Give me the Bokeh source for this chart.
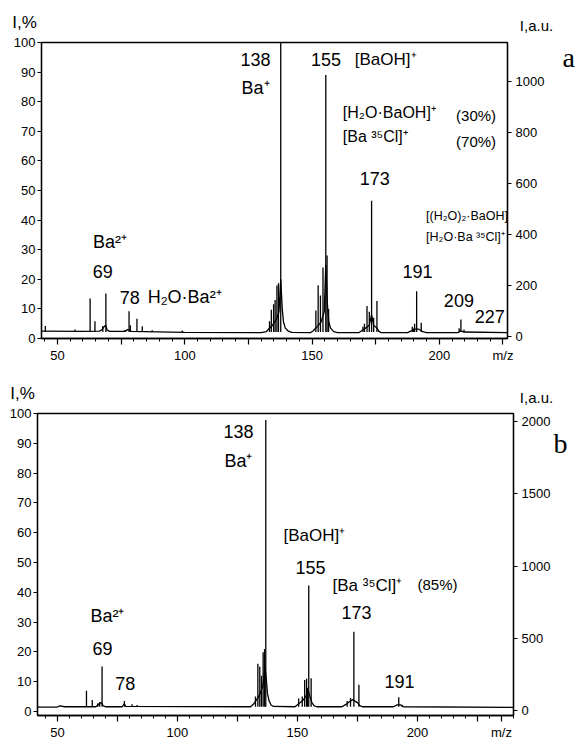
from bokeh.plotting import figure
from bokeh.models import Range1d, LinearAxis, FixedTicker, Label
from bokeh.layouts import column, row
from bokeh.embed import file_html
from bokeh.resources import INLINE

# ---------------- data: panel a ----------------
a_profile_mz = [43.7, 60, 66.5, 67.5, 68.3, 68.9, 69.5, 70.5, 76.5, 77.5, 78.5, 79, 100, 130,
                132, 133, 134.5, 136, 137, 137.7, 138.3, 138.8, 139.5, 140.5, 142,
                149.5, 150.5, 152, 153.5, 154.8, 155.4, 156.0, 156.6, 157.3, 158.5, 160,
                168.5, 169.5, 171, 172.5, 173.4, 174.2, 175.5, 176.2, 177,
                187.5, 189, 190.5, 191.8, 193.5, 195, 207.5, 208.5, 209.5, 226.8]
a_profile_int = [2.5, 2.4, 2.5, 3.0, 4.0, 4.5, 2.8, 2.4, 2.4, 3.0, 2.8, 2.4, 2.1, 2.0,
                 2.3, 3.2, 4.5, 6.5, 9.0, 20.0, 10.0, 5.5, 3.5, 2.6, 2.1,
                 2.0, 2.6, 4.0, 5.5, 9.0, 25.0, 12.0, 5.5, 3.5, 2.3, 2.0,
                 2.0, 2.6, 3.5, 4.5, 8.0, 4.5, 3.5, 2.5, 2.0,
                 2.0, 2.6, 3.2, 3.2, 2.3, 2.0, 2.0, 2.6, 2.2, 2.0]
a_peak_mz = [45.2, 56.9, 62.8, 64.7, 67.8, 69.0, 76.5, 78.1, 78.6, 81.2, 83.3, 87.2, 99.0,
             133.3, 134.0, 134.9, 135.5, 136.2, 136.8, 137.7,
             151.5, 152.4, 153.3, 154.3, 155.4, 155.9, 156.5,
             170.0, 170.6, 171.6, 172.5, 173.4, 174.2, 175.5,
             189.4, 189.8, 190.3, 191.1, 192.9, 207.8, 208.5, 209.7]
a_peak_int = [4.2, 3.0, 13.5, 5.8, 4.2, 15.2, 2.9, 9.2, 4.5, 6.7, 4.1, 2.8, 2.7,
              5.8, 9.7, 11.6, 13.0, 17.9, 18.7, 100.0,
              9.5, 18.0, 14.5, 24.0, 89.0, 28.0, 10.0,
              4.0, 5.0, 11.0, 9.0, 46.5, 7.0, 12.7,
              4.0, 3.4, 5.0, 16.0, 5.3, 3.5, 6.4, 3.0]
a_base = 2.2

# ---------------- data: panel b ----------------
b_profile_mz = [41.7, 50, 51, 53, 66, 67, 68.3, 69, 70, 77, 77.8, 78.5, 130.5,
                131.7, 133, 134.5, 135.7, 136.4, 136.9, 137.5, 138.2, 139, 140,
                149, 150.5, 152, 153.5, 154.5, 155.2, 156, 157, 158,
                168.5, 170, 171.5, 173, 173.9, 175, 176, 177,
                190, 191.5, 193, 194, 240]
b_profile_int = [1.5, 1.5, 1.9, 1.6, 1.6, 2.3, 3.0, 2.0, 1.6, 1.6, 2.6, 1.7, 1.6,
                 2.5, 4.0, 6.0, 9.0, 15.0, 12.0, 6.0, 3.5, 2.2, 1.7,
                 1.6, 2.6, 3.5, 5.0, 7.0, 5.0, 3.0, 1.9, 1.6,
                 1.6, 2.3, 3.2, 4.0, 3.5, 3.0, 2.0, 1.6,
                 1.6, 2.2, 2.2, 1.6, 1.4]
b_peak_mz = [62.1, 64.5, 66.8, 67.6, 68.6, 77.9, 81.1, 83.2,
             132.5, 133.5, 134.3, 135.0, 135.7, 136.3, 136.8,
             150.5, 152.0, 153.0, 153.8, 154.2, 154.7, 155.7,
             170.7, 172.1, 173.5, 175.6, 192.2, 193.6]
b_peak_int = [7.0, 3.9, 2.8, 3.2, 15.1, 3.5, 2.4, 2.2,
              5.0, 16.0, 15.0, 12.0, 19.9, 21.0, 97.8,
              4.4, 5.0, 10.6, 11.0, 8.0, 42.3, 11.2,
              3.5, 4.5, 26.8, 9.0, 4.8, 2.3]
b_base = 1.6

a_x_major = [50, 75, 100, 125, 150, 175, 200, 225]
a_x_labels = {75: "", 125: "", 175: "", 225: "m/z"}
b_x_major = [50, 75, 100, 125, 150, 175, 200, 225, 235]
b_x_labels = {75: "", 125: "", 175: "", 225: "", 235: "m/z"}
x_minor = list(range(40, 245, 5))
pct_ticks = [0, 10, 20, 30, 40, 50, 60, 70, 80, 90, 100]
a_au_ticks = [0, 200, 400, 600, 800, 1000]
b_au_ticks = [0, 500, 1000, 1500, 2000]

SANS = "Liberation Sans"
SERIF = "Liberation Serif"
W = 577


def lab(p, x, y, text, size=18, align="left", font=SANS):
    p.add_layout(Label(x=x, y=y, text=text, text_font=font,
                       text_font_size=f"{size}px", text_align=align,
                       text_baseline="middle", text_color="black"))


def strip(h):
    s = figure(width=W, height=h, x_range=Range1d(0, W), y_range=Range1d(h, 0),
               output_backend="svg", toolbar_location=None, min_border=0,
               x_axis_type=None, y_axis_type=None)
    s.outline_line_color = None
    s.background_fill_color = "white"
    s.border_fill_color = "white"
    s.title.standoff = 0
    return s


def panel(height, xr, yr, au_range, au_ticks, x_major, x_labels, borders,
          tag_value, tag_text, tag_standoff):
    left, top, right, bottom = borders
    p = figure(width=W, height=height, x_range=Range1d(*xr), y_range=Range1d(*yr),
               output_backend="svg", toolbar_location=None,
               min_border_left=left, min_border_top=top,
               min_border_right=right, min_border_bottom=bottom)
    p.title.standoff = 0
    p.xgrid.visible = False
    p.ygrid.visible = False
    p.outline_line_color = "black"
    p.outline_line_width = 1.3
    p.background_fill_color = "white"
    p.border_fill_color = "white"

    xa = p.xaxis[0]
    xa.ticker = FixedTicker(ticks=x_major, minor_ticks=x_minor)
    xa.major_label_overrides = x_labels
    xa.major_tick_out = 6
    xa.major_tick_in = 0
    xa.minor_tick_out = 3
    xa.minor_tick_in = 0
    xa.major_label_standoff = 3

    ya = p.yaxis[0]
    ya.ticker = FixedTicker(ticks=pct_ticks, minor_ticks=[])
    ya.major_tick_out = 4
    ya.major_tick_in = 0
    ya.major_label_standoff = 2

    p.extra_y_ranges = {"au": Range1d(*au_range)}
    ra = LinearAxis(y_range_name="au", ticker=FixedTicker(ticks=au_ticks, minor_ticks=[]))
    ra.major_tick_out = 4
    ra.major_tick_in = 0
    ra.major_label_standoff = 4
    p.add_layout(ra, "right")

    for ax in (xa, ya, ra):
        ax.axis_line_color = "black"
        ax.axis_line_width = 1.3
        ax.major_tick_line_color = "black"
        ax.major_tick_line_width = 1.2
        ax.minor_tick_line_color = "black"
        ax.minor_tick_line_width = 1.0
        ax.major_label_text_font = SANS
        ax.major_label_text_font_size = "13px"
        ax.major_label_text_color = "black"

    # panel letter (a / b) shown as a lone tick label of a bare outer axis
    tag = LinearAxis(ticker=FixedTicker(ticks=[tag_value], minor_ticks=[]),
                     major_label_overrides={tag_value: tag_text})
    tag.axis_line_color = None
    tag.major_tick_line_color = None
    tag.minor_tick_line_color = None
    tag.major_tick_out = 0
    tag.major_tick_in = 0
    tag.major_label_standoff = tag_standoff
    tag.major_label_text_font = SERIF
    tag.major_label_text_font_size = "28px"
    tag.major_label_text_color = "black"
    p.add_layout(tag, "right")
    return p


# ---------------- header of panel a ----------------
sa = strip(34)
lab(sa, 24, 22, "I,%", 17, "center")
lab(sa, 536, 25, "I,a.u.", 15, "center")

# ---------------- panel a ----------------
pa = panel(331, (43.7, 226.8), (0, 100), (-6.6, 1155), a_au_ticks, a_x_major, a_x_labels,
           (41, 8, 66, 24), 95, "a", 15)
pa.line(a_profile_mz, a_profile_int, line_color="black", line_width=1.3)
pa.segment(x0=a_peak_mz, y0=[a_base] * len(a_peak_mz), x1=a_peak_mz, y1=a_peak_int,
           line_color="black", line_width=1.3)

lab(pa, 127.8, 94.1, "138", 18, "center")
lab(pa, 127.8, 84.7, "Ba⁺", 18, "center")
lab(pa, 155.5, 94.1, "155", 18, "center")
lab(pa, 166.8, 94.1, "[BaOH]⁺", 17)
lab(pa, 162.1, 76.2, "[H₂O·BaOH]⁺", 16)
lab(pa, 206.6, 75.3, "(30%)", 15)
lab(pa, 162.1, 68.3, "[Ba ³⁵Cl]⁺", 16)
lab(pa, 206.6, 66.6, "(70%)", 15)
lab(pa, 174.6, 53.9, "173", 18, "center")
lab(pa, 194.8, 41.5, "[(H₂O)₂·BaOH]⁺", 12.5)
lab(pa, 194.8, 34.4, "[H₂O·Ba ³⁵Cl]⁺", 12.5)
lab(pa, 191.4, 22.7, "191", 18, "center")
lab(pa, 207.7, 13.0, "209", 18, "center")
lab(pa, 219.8, 7.3, "227", 18, "center")
lab(pa, 63.9, 32.7, "Ba²⁺", 18)
lab(pa, 67.8, 22.7, "69", 18, "center")
lab(pa, 78.4, 14.0, "78", 18, "center")
lab(pa, 85.4, 14.0, "H₂O·Ba²⁺", 18)

# ---------------- header of panel b ----------------
sb = strip(42)
lab(sb, 22, 28, "I,%", 17, "center")
lab(sb, 536, 32, "I,a.u.", 15, "center")

# ---------------- panel b ----------------
pb = panel(338, (41.7, 240), (-1.34, 100), (-34.7, 2056), b_au_ticks, b_x_major, b_x_labels,
           (37, 6, 64, 30), 90, "b", 0)
pb.line(b_profile_mz, b_profile_int, line_color="black", line_width=1.3)
pb.segment(x0=b_peak_mz, y0=[b_base] * len(b_peak_mz), x1=b_peak_mz, y1=b_peak_int,
           line_color="black", line_width=1.3)

lab(pb, 125.4, 94.0, "138", 18, "center")
lab(pb, 125.4, 84.2, "Ba⁺", 18, "center")
lab(pb, 144.2, 59.1, "[BaOH]⁺", 17)
lab(pb, 155.4, 48.3, "155", 18, "center")
lab(pb, 164.6, 42.3, "[Ba ³⁵Cl]⁺", 17)
lab(pb, 200.0, 42.6, "(85%)", 15)
lab(pb, 174.6, 33.2, "173", 18, "center")
lab(pb, 192.5, 10.1, "191", 18, "center")
lab(pb, 63.75, 31.9, "Ba²⁺", 18)
lab(pb, 68.75, 21.1, "69", 18, "center")
lab(pb, 78.3, 9.4, "78", 18, "center")

layout = column(row(sa), row(pa), row(sb), row(pb))
open("out.html", "w").write(file_html(layout, INLINE))
